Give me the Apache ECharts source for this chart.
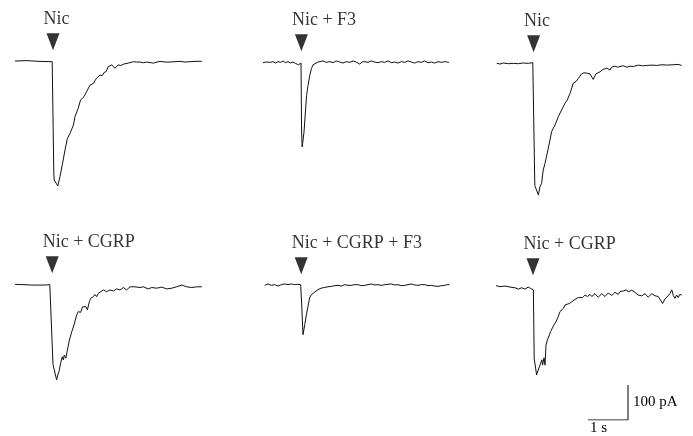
<!DOCTYPE html>
<html>
<head>
<meta charset="utf-8">
<script src="https://cdn.jsdelivr.net/npm/echarts@6/dist/echarts.min.js"></script>
<style>html,body{margin:0;padding:0;background:#fff}#c{width:693px;height:436px}</style>
</head>
<body>
<div id="c"></div>
<script>
// ---- data: time (s) vs current (pA) ----
const labels = ["Nic", "Nic + F3", "Nic", "Nic + CGRP", "Nic + CGRP + F3", "Nic + CGRP"];
const arrowTimes = [0.95, 0.96, 0.94, 0.93, 0.93, 0.95];

const traceNic1 = [
 [0,0],[0.3,1],[0.6,-1],[0.93,-2],[0.95,-2],[0.97,-320],[0.98,-340],[1.07,-357],[1.125,-330],[1.19,-292],[1.25,-254],
 [1.31,-221],[1.375,-207],[1.46,-183],[1.5,-159],[1.58,-135],[1.64,-111],[1.725,-102],[1.81,-83],[1.875,-69],
 [1.96,-64],[2.0,-56],[2.04,-49],[2.08,-52],[2.125,-40],[2.18,-42],[2.225,-33],[2.28,-30],[2.33,-16],[2.42,-11],[2.5,-21],
 [2.58,-11],[2.64,-13],[2.71,-9],[2.83,-6],[2.96,-2],[3.04,-3],[3.125,-3],[3.21,-5],[3.29,-3],[3.46,-6],[3.55,-3],
 [3.625,-1],[3.75,-3],[3.875,-3],[4.0,-2],[4.125,-1],[4.25,-3],[4.375,-2],[4.5,-1],[4.67,-1]
];
const traceNicF3 = [
 [0,-2],[0.042,3],[0.083,0],[0.125,4],[0.19,-1],[0.25,1],[0.31,-3],[0.375,1],[0.44,-1],[0.5,3],[0.56,-2],[0.625,1],
 [0.69,-3],[0.75,0],[0.81,-4],[0.86,-2],[0.89,-8],[0.93,-6],[0.95,-3],[0.96,-3],[0.965,-200],[0.98,-243],
 [1.025,-200],[1.06,-143],[1.09,-95],[1.125,-67],[1.17,-38],[1.21,-19],[1.25,-8],[1.29,-3],[1.375,0],
 [1.42,0],[1.5,3],[1.58,-1],[1.67,1],[1.75,-2],[1.83,3],[1.92,0],[2.0,-3],[2.08,1],[2.17,-1],[2.25,3],[2.33,0],
 [2.42,-6],[2.475,0],[2.54,1],[2.625,-1],[2.71,3],[2.79,0],[2.875,-2],[2.96,1],[3.04,-1],[3.125,3],[3.21,-2],
 [3.29,0],[3.375,-3],[3.46,1],[3.54,-1],[3.625,3],[3.71,0],[3.79,-3],[3.875,1],[3.96,-1],[4.04,3],[4.125,-2],
 [4.21,0],[4.29,-3],[4.375,1],[4.46,-1],[4.54,1],[4.65,-1]
];
const traceNic2 = [
 [0.02,-1],[0.1,-3],[0.18,0],[0.31,-2],[0.43,-1],[0.56,-2],[0.68,0],[0.81,-1],[0.92,1],[0.94,-1],[0.95,-1],
 [0.97,-350],[1.06,-377],[1.1,-353],[1.14,-344],[1.18,-306],[1.225,-287],[1.28,-258],[1.35,-220],[1.39,-196],
 [1.475,-177],[1.56,-153],[1.6,-150],[1.64,-134],[1.725,-115],[1.78,-106],[1.85,-87],[1.93,-58],[2.0,-53],
 [2.06,-44],[2.14,-31],[2.2,-28],[2.27,-29],[2.35,-31],[2.43,-47],[2.5,-31],[2.6,-25],[2.68,-18],[2.77,-15],
 [2.85,-20],[2.89,-12],[2.975,-9],[3.04,-12],[3.1,-10],[3.18,-8],[3.27,-12],[3.35,-9],[3.43,-10],[3.56,-6],
 [3.66,-8],[3.77,-7],[3.9,-6],[4.02,-7],[4.15,-5],[4.27,-6],[4.43,-5],[4.55,-4],[4.64,-7]
];
const traceNicCGRP1 = [
 [0,-1],[0.25,-2],[0.42,-3],[0.58,-3],[0.75,-3],[0.87,-2],[0.92,-1],[0.95,-230],[1.04,-274],[1.07,-260],
 [1.1,-250],[1.14,-227],[1.18,-208],[1.21,-217],[1.23,-203],[1.27,-212],[1.31,-189],[1.36,-160],[1.42,-136],
 [1.475,-117],[1.54,-89],[1.58,-79],[1.64,-81],[1.69,-65],[1.725,-70],[1.775,-65],[1.81,-74],[1.86,-50],
 [1.89,-41],[1.96,-36],[2.0,-30],[2.04,-36],[2.08,-27],[2.125,-22],[2.21,-17],[2.29,-22],[2.375,-17],
 [2.46,-20],[2.54,-14],[2.625,-17],[2.71,-10],[2.79,-17],[2.875,-8],[3.0,-8],[3.125,-10],[3.21,-8],
 [3.33,-14],[3.42,-10],[3.54,-12],[3.67,-9],[3.79,-14],[3.92,-12],[4.04,-8],[4.17,-3],[4.29,-8],
 [4.42,-10],[4.54,-8],[4.67,-8]
];
const traceNicCGRPF3 = [
 [0.017,-1],[0.1,3],[0.183,-1],[0.267,1],[0.35,-3],[0.433,1],[0.517,3],[0.6,1],[0.683,3],[0.767,1],[0.85,2],
 [0.917,1],[0.933,1],[0.94,-51],[0.975,-142],[1.02,-113],[1.06,-85],[1.1,-61],[1.14,-37],[1.18,-28],
 [1.27,-20],[1.35,-13],[1.43,-9],[1.52,-7],[1.6,-5],[1.68,-4],[1.77,-2],[1.85,-1],[1.93,-3],[2.02,1],[2.1,-1],
 [2.18,-1],[2.27,1],[2.35,1],[2.43,-2],[2.52,-1],[2.6,1],[2.68,3],[2.77,0],[2.85,1],[2.93,-1],[3.02,1],
 [3.1,2],[3.18,3],[3.27,0],[3.35,1],[3.43,-2],[3.52,-1],[3.6,1],[3.68,3],[3.77,0],[3.85,-1],[3.93,1],
 [4.02,1],[4.1,-2],[4.18,-1],[4.27,-3],[4.35,-4],[4.43,-2],[4.52,-1],[4.58,1],[4.64,1]
];
const traceNicCGRP2 = [
 [0.025,1],[0.125,-2],[0.25,0],[0.375,-3],[0.5,-5],[0.58,-9],[0.67,-5],[0.75,-9],[0.83,-3],[0.89,-7],
 [0.94,-11],[0.96,-11],[0.98,-207],[1.04,-254],[1.08,-240],[1.125,-226],[1.17,-211],[1.19,-226],[1.225,-205],
 [1.25,-226],[1.275,-169],[1.31,-154],[1.36,-140],[1.39,-130],[1.44,-126],[1.475,-111],[1.525,-102],
 [1.58,-88],[1.625,-73],[1.67,-78],[1.71,-64],[1.75,-54],[1.79,-56],[1.86,-50],[1.92,-45],[1.975,-40],
 [2.025,-35],[2.08,-33],[2.125,-30],[2.19,-33],[2.25,-26],[2.31,-30],[2.375,-24],[2.42,-30],[2.46,-28],
 [2.5,-22],[2.54,-26],[2.58,-32],[2.625,-30],[2.67,-22],[2.71,-24],[2.75,-30],[2.79,-28],[2.83,-20],
 [2.875,-21],[2.92,-27],[2.96,-26],[3.0,-18],[3.04,-21],[3.08,-24],[3.125,-16],[3.17,-20],[3.21,-14],
 [3.25,-18],[3.29,-11],[3.33,-17],[3.375,-16],[3.42,-12],[3.46,-11],[3.5,-18],[3.54,-16],[3.58,-26],
 [3.625,-21],[3.67,-28],[3.71,-30],[3.75,-22],[3.79,-24],[3.83,-32],[3.875,-30],[3.92,-22],[3.96,-21],
 [4.0,-28],[4.04,-26],[4.08,-30],[4.125,-35],[4.19,-50],[4.25,-37],[4.29,-33],[4.33,-28],[4.375,-21],
 [4.42,-11],[4.46,-28],[4.5,-35],[4.54,-26],[4.58,-33],[4.62,-24],[4.67,-26]
];
const traces = [traceNic1, traceNicF3, traceNic2, traceNicCGRP1, traceNicCGRPF3, traceNicCGRP2];
const scaleBarTime = 1;      // s
const scaleBarCurrent = 100; // pA
const scaleBarLabels = ["100 pA", "1 s"];

// ---- layout ----
const PX_PER_PA = 0.35, PX_PER_S = 40;
const YMIN = -400, YMAX = 130, XMAX = 4.7;
const panels = [
  {left: 15, base: 61}, {left: 263, base: 62}, {left: 496, base: 63},
  {left: 15, base: 284}, {left: 264, base: 285}, {left: 495, base: 286}
];
const FONT = '"Liberation Serif", "Times New Roman", serif';

const grids = [], xAxes = [], yAxes = [], series = [];
panels.forEach((p, i) => {
  grids.push({left: p.left, top: p.base - YMAX * PX_PER_PA,
              width: XMAX * PX_PER_S, height: (YMAX - YMIN) * PX_PER_PA});
  xAxes.push({type: 'value', gridIndex: i, min: 0, max: XMAX, show: false});
  yAxes.push({type: 'value', gridIndex: i, min: YMIN, max: YMAX, show: false});
  series.push({type: 'line', xAxisIndex: i, yAxisIndex: i, data: traces[i], showSymbol: false,
               lineStyle: {color: '#111', width: 1}, silent: true});
  series.push({type: 'scatter', xAxisIndex: i, yAxisIndex: i, data: [[arrowTimes[i], 55]],
               symbol: 'triangle', symbolRotate: 180, symbolSize: [13, 17],
               itemStyle: {color: '#000'},
               label: {show: true, formatter: labels[i], position: [-3, -14], align: 'left',
                       verticalAlign: 'middle', fontFamily: FONT, fontSize: 18, color: '#000'}});
});
// scale bar
const sbi = panels.length;
grids.push({left: 588, top: 385, width: scaleBarTime * PX_PER_S, height: scaleBarCurrent * PX_PER_PA});
xAxes.push({type: 'value', gridIndex: sbi, min: 0, max: scaleBarTime, show: false});
yAxes.push({type: 'value', gridIndex: sbi, min: 0, max: scaleBarCurrent, show: false});
series.push({type: 'line', xAxisIndex: sbi, yAxisIndex: sbi, showSymbol: false,
             data: [[0, 0], [scaleBarTime, 0], [scaleBarTime, scaleBarCurrent]],
             lineStyle: {color: '#000', width: 1}});

const chart = echarts.init(document.getElementById('c'));
chart.setOption({
  animation: false,
  backgroundColor: '#fff',
  grid: grids, xAxis: xAxes, yAxis: yAxes, series: series,
  graphic: [
    {type: 'text', left: 633, top: 395, style: {text: scaleBarLabels[0], font: '15px ' + FONT, fill: '#000'}},
    {type: 'text', left: 590, top: 421, style: {text: scaleBarLabels[1], font: '15px ' + FONT, fill: '#000'}}
  ]
});
</script>
</body>
</html>
